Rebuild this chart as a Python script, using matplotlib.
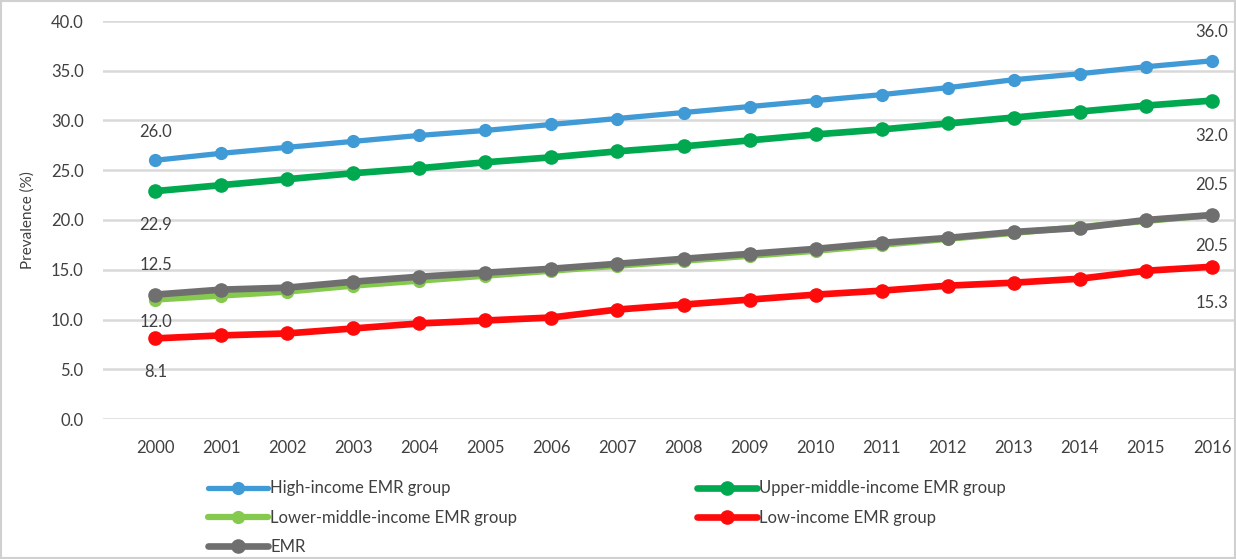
import matplotlib
matplotlib.use("Agg")
import matplotlib.pyplot as plt
from matplotlib.patches import Rectangle

plt.rcParams['font.family'] = ['Lato', 'DejaVu Sans']

years = list(range(2000, 2017))
high_income = [26.0, 26.7, 27.3, 27.9, 28.5, 29.0, 29.6, 30.2, 30.8, 31.4,
               32.0, 32.6, 33.3, 34.1, 34.7, 35.4, 36.0]
upper_middle = [22.9, 23.5, 24.1, 24.7, 25.2, 25.8, 26.3, 26.9, 27.4, 28.0,
                28.6, 29.1, 29.7, 30.3, 30.9, 31.5, 32.0]
lower_middle = [12.0, 12.4, 12.8, 13.4, 13.9, 14.4, 14.9, 15.4, 15.9, 16.4,
                16.9, 17.5, 18.1, 18.7, 19.3, 19.9, 20.5]
low_income = [8.1, 8.4, 8.6, 9.1, 9.6, 9.9, 10.2, 11.0, 11.5, 12.0,
              12.5, 12.9, 13.4, 13.7, 14.1, 14.9, 15.3]
emr = [12.5, 13.0, 13.2, 13.8, 14.3, 14.7, 15.1, 15.6, 16.1, 16.6,
       17.1, 17.7, 18.2, 18.8, 19.2, 20.0, 20.5]

series_names = ["High-income EMR group", "Upper-middle-income EMR group",
                "Lower-middle-income EMR group", "Low-income EMR group", "EMR"]
yticks = [0, 5, 10, 15, 20, 25, 30, 35, 40]

fig = plt.figure(figsize=(12.36, 5.59), dpi=100)
ax = fig.add_axes([103 / 1236, 1 - 419 / 559, 1 - 103 / 1236, (419 - 21) / 559])

styles = [
    (high_income, "#3f9ad6", 3.8, 8.5),
    (upper_middle, "#00a84f", 4.8, 9.5),
    (lower_middle, "#86c94f", 4.5, 8.5),
    (low_income, "#ff0a0a", 4.8, 9.5),
    (emr, "#6f6f6f", 4.8, 9.5),
]
handles = []
for (vals, color, lw, ms), name in zip(styles, series_names):
    h, = ax.plot(years, vals, color=color, lw=lw, marker="o", ms=ms,
                 solid_capstyle="round", label=name, zorder=3)
    handles.append(h)

# value labels at the first and last year (vertical offsets in pixels, + = down)
label_color = "#404040"
first_offsets = [(high_income, -28), (upper_middle, 34), (emr, -30),
                 (lower_middle, 22), (low_income, 34)]
last_offsets = [(high_income, -29), (upper_middle, 35), (emr, -30),
                (lower_middle, 31), (low_income, 36)]
px = 72 / 100
for vals, dy in first_offsets:
    ax.annotate(f"{vals[0]:.1f}", (years[0], vals[0]), xytext=(1 * px, -dy * px),
                textcoords="offset points", ha="center", va="center",
                fontsize=12, color=label_color)
for vals, dy in last_offsets:
    ax.annotate(f"{vals[-1]:.1f}", (years[-1], vals[-1]), xytext=(0, -dy * px),
                textcoords="offset points", ha="center", va="center",
                fontsize=12, color=label_color)

ax.set_xlim(2000 - 52 / 66.06, 2016 + 24 / 66.06)
ax.set_ylim(0, 40)
ax.set_yticks(yticks)
ax.set_yticklabels([f"{v:.1f}" for v in yticks])
ax.set_xticks(years)
ax.tick_params(axis="y", length=0, pad=14, labelsize=12, labelcolor=label_color)
ax.tick_params(axis="x", length=0, pad=15, labelsize=12, labelcolor=label_color)
for s in ax.spines.values():
    s.set_visible(False)
ax.grid(axis="y", color="#d9d9d9", lw=1.8)
ax.set_axisbelow(True)
ax.set_ylabel("Prevalence (%)", fontsize=11, color=label_color)
ax.yaxis.set_label_coords(-68 / 1133, 0.5)

order = [0, 2, 4, 1, 3]
fig.legend([handles[i] for i in order], [series_names[i] for i in order],
           ncol=2, loc="upper left", bbox_to_anchor=(200 / 1236, 1 - 472 / 559),
           frameon=False, fontsize=12, handlelength=3.6, handletextpad=0.1,
           labelspacing=0.8, columnspacing=10.8, borderpad=0, labelcolor=label_color)

fig.patches.append(Rectangle((0.001, 0.001), 0.998, 0.998, transform=fig.transFigure,
                             fill=False, edgecolor="#d0d0d0", lw=1.5))

fig.savefig("out.png", dpi=100, facecolor="white")
